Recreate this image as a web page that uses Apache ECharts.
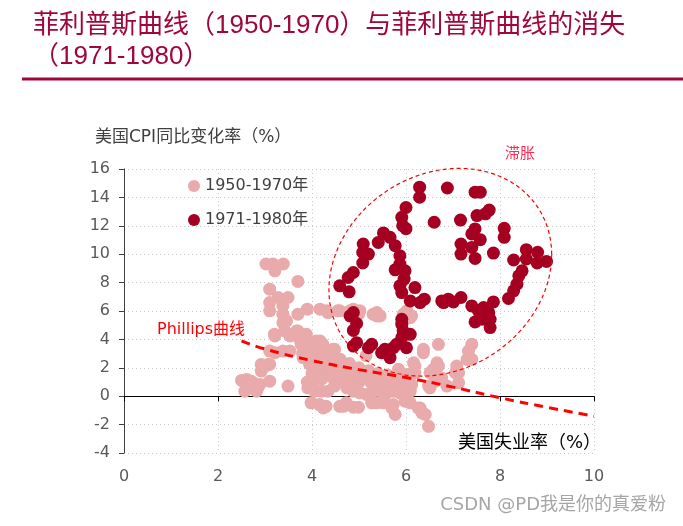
<!DOCTYPE html>
<html>
<head>
<meta charset="utf-8">
<script src="https://cdn.jsdelivr.net/npm/echarts@6/dist/echarts.min.js"></script>
<style>
html,body{margin:0;padding:0;background:#fff;}
#chart{width:683px;height:526px;}
</style>
</head>
<body>
<div id="chart"></div>
<script>
// ---------- data ----------
const titleText = '菲利普斯曲线（1950-1970）与菲利普斯曲线的消失\n（1971-1980）';
const seriesNames = ['1950-1970年', '1971-1980年'];
const yAxisTitle = '美国CPI同比变化率（%）';
const xAxisTitle = '美国失业率（%）';
const stagLabel = '滞胀';
const phillipsLabel = 'Phillips曲线';
const watermark = 'CSDN @PD我是你的真爱粉';

const xRange = [0, 10, 2];
const yRange = [-4, 16, 2];

// 1950-1970 : [unemployment, CPI yoy]
const points1950 = [
  [3.02,9.31],[3.17,9.31],[3.39,9.31],[3.21,8.83],[3.70,8.08],
  [3.10,7.54],[3.28,6.95],[3.49,6.95],[3.10,6.59],[3.10,6.01],[3.38,6.36],[3.38,5.77],[3.38,5.18],[3.46,5.30],[3.70,5.77],[3.90,6.13],
  [4.17,6.13],[4.31,6.01],[4.34,5.89],[4.55,6.01],[4.59,6.01],[4.81,6.01],[4.88,6.13],[4.99,5.77],[5.02,6.01],[5.30,5.77],[5.38,5.89],[5.38,5.65],[5.45,5.65],[5.94,5.77],[6.02,6.01],[6.09,5.53],[6.12,5.65],
  [3.20,4.36],[3.21,4.24],[3.42,4.59],[3.52,4.36],[3.53,4.24],[3.67,4.59],[3.74,4.00],[3.38,3.18],[3.21,3.06],[3.10,3.18],[3.53,3.18],[3.88,4.36],[4.17,3.89],[4.23,3.65],
  [3.70,4.59],[3.74,4.12],[3.77,3.65],[3.88,3.89],[3.95,3.41],[4.09,3.89],[4.23,3.53],[4.34,3.18],[4.48,3.30],[4.45,3.30],[4.49,2.71],
  [3.81,2.71],[3.95,2.24],[4.09,2.00],[4.23,1.77],[4.34,2.00],[4.48,2.24],[4.66,2.00],
  [3.80,3.00],[3.90,2.80],[4.00,3.10],[4.10,2.60],[4.20,3.00],[4.30,2.60],[4.40,2.70],[4.50,2.40],[4.60,2.60],[4.00,1.60],[4.20,1.20],[4.40,1.40],[4.50,1.00],[4.60,1.50],[4.70,1.20],[4.80,1.00],[3.90,1.00],[4.00,0.80],[4.10,1.30],
  [4.80,2.30],[5.00,2.00],[5.20,1.80],[5.40,1.60],[5.60,1.50],[5.80,1.30],[5.00,1.00],[5.30,0.70],[5.50,0.50],[5.15,2.85],
  [2.92,2.24],[3.06,2.24],[2.92,1.77],[3.00,2.12],[3.10,2.24],
  [2.50,1.11],[2.61,1.18],[2.70,1.06],[2.75,0.94],[2.89,0.83],[2.85,0.59],[2.57,0.35],[2.82,0.35],[2.65,0.60],
  [3.10,1.06],[3.49,0.71],
  [3.91,0.59],[4.06,0.35],[4.20,0.35],[4.34,0.35],[4.48,0.71],
  [3.98,-0.47],[4.16,-0.59],[4.30,-0.71],[4.59,-0.71],[4.73,-0.47],[4.24,-0.83],
  [4.67,2.00],[4.81,1.77],[4.95,1.53],[5.09,1.29],[5.23,1.06],[5.38,1.06],[5.52,0.83],[5.66,0.71],[5.80,0.83],[5.94,1.06],[6.02,1.53],[6.09,0.59],[5.98,0.12],
  [4.74,0.59],[4.88,0.35],[5.02,0.23],[5.16,0.12],[5.30,0.35],[5.59,0.23],[5.73,0.35],
  [4.67,-0.71],[4.88,-0.78],[4.99,-0.78],[5.27,-0.47],[5.38,-0.47],[5.52,-0.47],[5.70,-0.83],[5.77,-1.29],[5.98,-0.35],[6.09,-0.47],[6.30,-0.83],[6.41,-1.29],[6.48,-2.12],
  [6.69,3.65],[6.37,3.06],[6.37,3.30],[7.40,3.65],[7.33,3.18],[7.30,2.59],[7.40,2.59],[6.69,2.12],[6.58,1.89],[6.51,1.65],[7.08,2.12],[7.12,1.65],[6.19,2.12],[6.19,1.65],[6.48,0.71],[7.12,0.94],
  [6.16,2.35],[6.66,2.35],[7.05,1.65],[6.87,0.71],[6.51,0.59],[6.62,1.06],[6.76,1.29],
  [5.84,1.89],[5.59,1.18],[5.73,0.83],[6.12,0.83],[6.09,0.35],[5.87,0.23],[5.59,0.59],
  [5.52,-0.12],[5.73,-0.59],[6.05,-0.35],[6.26,-0.83],[6.34,-1.18]
];

// 1971-1980 : [unemployment, CPI yoy]
const points1971 = [
  [6.29,14.72],[6.29,14.01],[6.88,14.66],[7.47,14.37],[7.58,14.37],[7.77,13.11],[7.69,12.84],[7.51,12.72],
  [6.00,13.29],[5.91,12.60],[5.93,12.01],[6.00,11.80],[6.60,12.25],[7.16,12.40],
  [5.52,11.50],[5.41,10.83],[5.66,11.19],[5.77,10.60],[5.09,10.72],[5.08,10.13],[5.20,10.01],[5.08,9.38],
  [5.87,9.89],[5.87,9.31],[5.77,8.90],[5.98,8.83],[5.96,8.25],[5.87,7.77],[5.91,7.30],[6.19,7.65],
  [6.09,6.71],[6.30,6.59],[6.39,6.83],[6.76,6.71],
  [4.88,8.71],[4.77,8.36],[4.59,7.77],[4.79,7.35],
  [4.88,5.89],[4.81,5.65],[4.95,5.12],[4.88,4.63],[4.95,3.77],[4.88,3.53],[5.27,3.65],[5.20,3.41],
  [5.55,3.30],[5.48,3.06],[5.66,2.71],[5.73,3.41],[5.80,3.65],[5.91,4.12],[5.94,4.59],[5.91,5.07],[5.91,5.42],[6.01,3.41],[6.09,4.36],
  [6.80,6.59],[6.90,6.83],[7.01,6.64],[7.17,6.95],[7.40,6.36],[7.54,6.01],[7.65,6.24],[7.76,5.89],[7.86,6.64],
  [7.47,5.23],[7.62,5.42],[7.79,5.42],[7.79,4.83],
  [7.47,11.78],[7.40,11.43],[7.58,11.02],[7.17,10.72],[7.40,10.48],[7.47,9.70],[7.17,10.01],[7.86,10.08],
  [8.09,11.82],[8.09,11.19],[8.29,9.59],[8.56,10.32],[8.80,10.13],[8.56,9.66],[8.79,9.38],[8.99,9.49],
  [8.47,8.83],[8.40,8.48],[8.36,7.89],[8.29,7.42],[8.18,6.88]
];

// dashed Phillips curve
const phillipsX = [2.5, 3, 4, 5, 6, 7, 8, 9, 10];
const phillipsY = [3.89, 3.32, 2.51, 1.87, 1.31, 0.64, -0.11, -0.78, -1.41];

// stagflation ellipse: centre and conjugate half-axes (data units)
const ellipseCenter = [6.73, 8.73];
const ellipseAxes = [2.37, 1.24, 7.21]; // x half-width, y tilt, y half-height

// ---------- chart ----------
const FONT = "'DejaVu Sans', 'Noto Sans CJK SC', sans-serif";
const chart = echarts.init(document.getElementById('chart'), null, {renderer: 'canvas'});

const option = {
  animation: false,
  backgroundColor: '#ffffff',
  title: {
    text: titleText,
    left: 28, top: 5,
    textStyle: {
      color: '#a0063c', fontSize: 26, fontWeight: 'normal', lineHeight: 31,
      fontFamily: "'Liberation Sans', 'Noto Sans CJK SC', sans-serif"
    }
  },
  legend: {
    data: seriesNames,
    orient: 'vertical',
    left: 183, top: 173,
    itemGap: 18,
    icon: 'circle',
    itemWidth: 12, itemHeight: 12,
    textStyle: {color: '#404040', fontSize: 16, fontFamily: FONT}
  },
  grid: {left: 124, right: 89, top: 169, bottom: 73, containLabel: false},
  xAxis: [{
    type: 'value', min: xRange[0], max: xRange[1], interval: xRange[2],
    position: 'bottom',
    axisLine: {show: false, onZero: false},
    axisTick: {show: false},
    axisLabel: {color: '#595959', fontSize: 16, fontFamily: FONT, margin: 16},
    splitLine: {show: true, lineStyle: {color: '#c8c8c8', type: [1, 3], width: 1}}
  }, {
    type: 'value', min: xRange[0], max: xRange[1], interval: xRange[2],
    position: 'top',
    axisLine: {show: true, onZero: true, lineStyle: {color: '#000000', width: 1}},
    axisTick: {show: true, inside: true, length: 5, lineStyle: {color: '#000000'}},
    axisLabel: {show: false},
    splitLine: {show: false}
  }],
  yAxis: {
    type: 'value', min: yRange[0], max: yRange[1], interval: yRange[2],
    axisLine: {show: true, onZero: false, lineStyle: {color: '#404040', width: 1}},
    axisTick: {show: true, length: 5, lineStyle: {color: '#404040'}},
    axisLabel: {color: '#595959', fontSize: 16, fontFamily: FONT, margin: 14},
    splitLine: {show: true, lineStyle: {color: '#c8c8c8', type: [1, 3], width: 1}}
  },
  series: [{
    name: seriesNames[0], type: 'scatter', symbol: 'circle', symbolSize: 13,
    itemStyle: {color: '#e8aaaa', opacity: 1},
    data: points1950, z: 2
  }, {
    name: seriesNames[1], type: 'scatter', symbol: 'circle', symbolSize: 13,
    itemStyle: {color: '#a50021', opacity: 1},
    data: points1971, z: 3
  }, {
    name: 'phillips', type: 'line', smooth: true, symbol: 'none',
    data: phillipsX.map((x, i) => [x, phillipsY[i]]),
    lineStyle: {color: '#ff0000', width: 3, type: [9, 6]},
    z: 5, silent: true
  }, {
    name: 'ellipse', type: 'custom', silent: true, z: 6, clip: false,
    data: [ellipseCenter],
    renderItem: function (params, api) {
      const cx = api.value(0), cy = api.value(1);
      const pts = [];
      for (let i = 0; i <= 90; i++) {
        const t = i / 90 * Math.PI * 2;
        pts.push(api.coord([cx + ellipseAxes[0] * Math.cos(t),
                            cy + ellipseAxes[1] * Math.cos(t) + ellipseAxes[2] * Math.sin(t)]));
      }
      return {type: 'polyline', shape: {points: pts},
              style: {fill: null, stroke: '#ff0000', lineWidth: 1.2, lineDash: [4, 3]}};
    }
  }],
  graphic: [
    {type: 'line', shape: {x1: 22, y1: 79, x2: 683, y2: 79},
     style: {stroke: '#a0063c', lineWidth: 3}, z: 10},
    {type: 'text', left: 95, top: 129,
     style: {text: yAxisTitle, fill: '#404040', fontSize: 17, fontFamily: FONT}},
    {type: 'text', right: 82, top: 434,
     style: {text: xAxisTitle, fill: '#000000', fontSize: 18, fontFamily: FONT}},
    {type: 'text', left: 505, top: 147,
     style: {text: stagLabel, fill: '#ff2d55', fontSize: 15, fontFamily: FONT}},
    {type: 'text', left: 157, top: 322,
     style: {text: phillipsLabel, fill: '#ff0000', fontSize: 16, fontFamily: FONT}},
    {type: 'text', right: 16, top: 495,
     style: {text: watermark, fill: '#a6a6a6', fontSize: 18, fontFamily: FONT,
             stroke: '#ffffff', lineWidth: 2}}
  ]
};
chart.setOption(option);
</script>
</body>
</html>
